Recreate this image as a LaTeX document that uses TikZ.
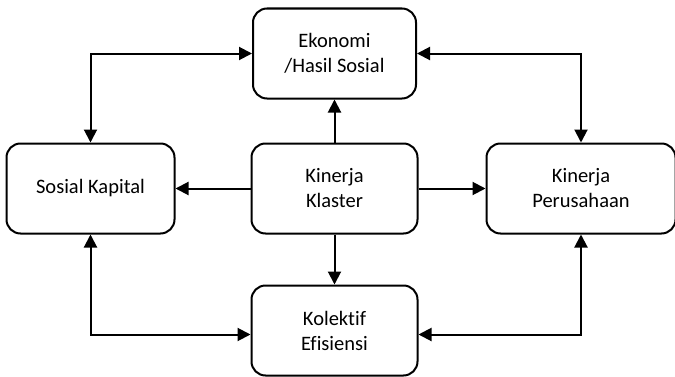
\documentclass[tikz,border=0pt]{standalone}
\usepackage{fontspec}
\setmainfont{Carlito}[Ligatures=CommonOff]
\usepackage{tikz}
\usetikzlibrary{arrows.meta,positioning}
\tikzset{
  box/.style={draw, line width=2pt, rounded corners=14pt, align=center, font=\fontsize{20.5}{25}\selectfont, minimum width=#1, minimum height=90pt, inner sep=3pt},
  box/.default=166pt,
  arr/.style={-{Triangle[length=13pt,width=13pt]}, line width=2pt},
  darr/.style={{Triangle[length=13pt,width=13pt]}-{Triangle[length=13pt,width=13pt]}, line width=2pt},
}

\begin{document}
\begin{tikzpicture}
  \useasboundingbox (0,0) rectangle (675pt,376pt);
  \node[box] (klaster) at (334.5pt,187.5pt) {Kinerja\\Klaster};
  \node[box=163pt, above=43pt of klaster] (ekonomi) {Ekonomi\\/Hasil Sosial};
  \node[box=168pt, left=75pt of klaster] (sosial) {Sosial Kapital};
  \node[box=189pt, right=67pt of klaster] (perusahaan) {Kinerja\\Perusahaan};
  \node[box, below=50pt of klaster] (kolektif) {Kolektif\\Efisiensi};
  % dari klaster
  \draw[arr] (klaster) -- (ekonomi);
  \draw[arr] (klaster) -- (sosial);
  \draw[arr] (klaster) -- (perusahaan);
  \draw[arr] (klaster) -- (kolektif);
  % hubungan timbal balik
  \draw[darr] (ekonomi.west) -| (sosial.north);
  \draw[darr] (ekonomi.east) -| (perusahaan.north);
  \draw[darr] (sosial.south) |- ([yshift=-4pt]kolektif.west);
  \draw[darr] (perusahaan.south) |- ([yshift=-4pt]kolektif.east);
\end{tikzpicture}
\end{document}
